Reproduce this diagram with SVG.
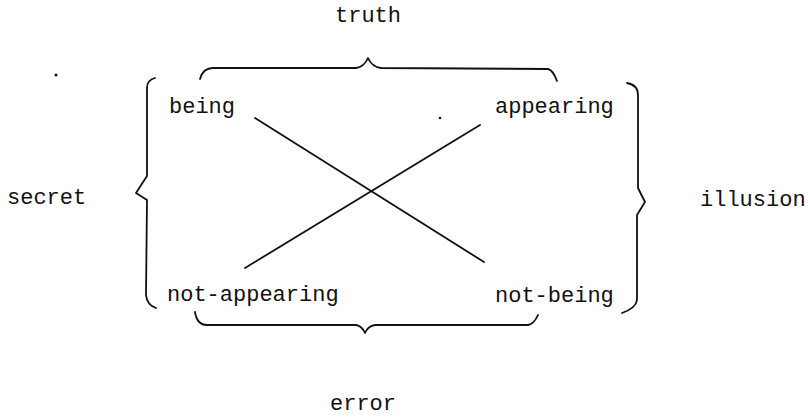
<svg xmlns="http://www.w3.org/2000/svg" width="808" height="420" viewBox="0 0 808 420">
<style>
text{font-family:"Liberation Mono","Courier New",monospace;font-size:22px;fill:#111}
.br{fill:none;stroke:#111;stroke-width:1.8;stroke-linejoin:round;stroke-linecap:round}
.ln{stroke:#111;stroke-width:1.8;stroke-linecap:round}
</style>
<rect width="808" height="420" fill="#fff"/>
<g id="node-being"><text x="169" y="113">being</text></g>
<g id="node-appearing"><text x="495" y="113">appearing</text></g>
<g id="node-not-appearing"><text x="167" y="301">not-appearing</text></g>
<g id="node-not-being"><text x="495" y="302">not-being</text></g>
<g id="brace-truth">
<path class="br" d="M200,79 Q203,68 213,68 L356,68 Q364,67 368,58 Q372,67 381,68 L548,69 Q553,70 557,81"/>
<text x="335" y="22">truth</text>
</g>
<g id="brace-secret">
<path class="br" d="M155,78 Q147,80 147,88 L147,176 L136,193 L147,200 L146,295 Q147,305 156,308"/>
<text x="7" y="204">secret</text>
</g>
<g id="brace-illusion">
<path class="br" d="M627,83 Q638,85 638,95 L638,188 L645,202 L637,215 L637,300 Q636,308 622,313"/>
<text x="700" y="206">illusion</text>
</g>
<g id="brace-error">
<path class="br" d="M195,312 Q197,325 207,325 L356,325 Q362,326 365,333 Q368,326 375,325 L528,325 Q534,324 538,315"/>
<text x="330" y="410">error</text>
</g>
<g id="connectors">
<line class="ln" x1="255" y1="118" x2="484" y2="262"/>
<line class="ln" x1="245" y1="268" x2="480" y2="125"/>
</g>
<circle cx="56" cy="75" r="1.5" fill="#111"/>
<circle cx="440" cy="118" r="1.3" fill="#111"/>
</svg>
